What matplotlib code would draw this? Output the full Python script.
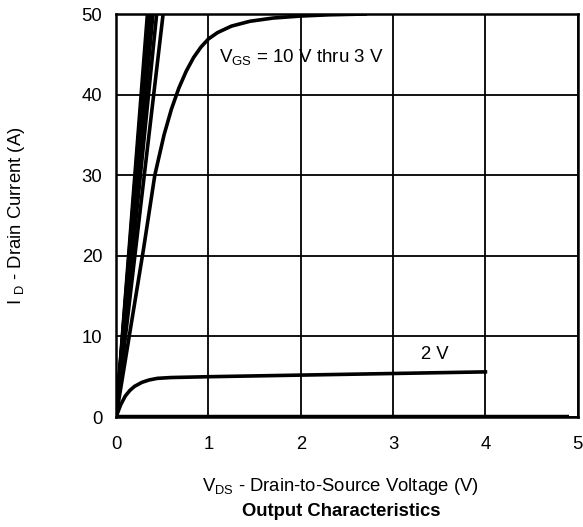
import matplotlib.pyplot as plt

plt.rcParams['font.family'] = ['Liberation Sans', 'DejaVu Sans']
plt.rcParams['mathtext.default'] = 'regular'

# Steep curves, VGS = 10 V down to 4 V (VDS at which ID reaches 50 A)
steep_vds_end = [0.34, 0.35, 0.36, 0.37, 0.38, 0.40, 0.44, 0.51]
steep_id_end = [50, 50, 50, 50, 50, 50, 50, 50]

# VGS = 3 V
vds_3v = [0, 0.1, 0.2, 0.3, 0.42, 0.52, 0.6, 0.68, 0.76, 0.84, 0.92, 1.0, 1.1,
          1.25, 1.45, 1.7, 2.0, 2.3, 2.7]
id_3v = [0, 7, 14, 21, 30, 35, 38.2, 40.8, 42.9, 44.6, 45.9, 46.9, 47.7,
         48.5, 49.1, 49.5, 49.75, 49.9, 50]

# VGS = 2 V
vds_2v = [0, 0.05, 0.1, 0.15, 0.2, 0.28, 0.36, 0.45, 0.6, 1.0, 2.0, 3.0, 4.0]
id_2v = [0, 1.5, 2.6, 3.3, 3.8, 4.3, 4.6, 4.8, 4.9, 5.0, 5.2, 5.4, 5.6]

# Below threshold
vds_off = [0, 4.9]
id_off = [0, 0]

fig = plt.figure(figsize=(5.83, 5.27), dpi=100)
ax = fig.add_axes([0.199, 0.2087, 0.792, 0.7647])

lw = 2.6
for xe, ye in zip(steep_vds_end, steep_id_end):
    ax.plot([0, xe], [0, ye], color='black', lw=lw, solid_capstyle='butt')
ax.plot(vds_3v, id_3v, color='black', lw=lw)
ax.plot(vds_2v, id_2v, color='black', lw=lw)
ax.plot(vds_off, id_off, color='black', lw=3.2, solid_capstyle='butt')

ax.set_xlim(0, 5)
ax.set_ylim(0, 50)
ax.set_xticks(range(0, 6))
ax.set_yticks(range(0, 51, 10))
ax.grid(True, color='black', lw=1.3)
ax.tick_params(length=0, labelsize=13.3)
ax.tick_params(axis='x', pad=14)
ax.tick_params(axis='y', pad=10)
for s in ax.spines.values():
    s.set_linewidth(1.8)

ax.text(1.12, 44.7, r'V$_{GS}$ = 10 V thru 3 V', fontsize=13.5, va='center', ha='left')
ax.text(3.3, 7.7, '2 V', fontsize=13.3, va='center', ha='left')

fig.text(0.5845, 0.076, r'V$_{DS}$ - Drain-to-Source Voltage (V)', fontsize=13.3,
         ha='center', va='center')
fig.text(0.028, 0.59, r'I $_{D}$ - Drain Current (A)', fontsize=13.3,
         ha='center', va='center', rotation=90)
fig.text(0.5845, 0.03, 'Output Characteristics', fontsize=13.3, fontweight='bold',
         ha='center', va='center')

fig.savefig('out.png', dpi=100)
